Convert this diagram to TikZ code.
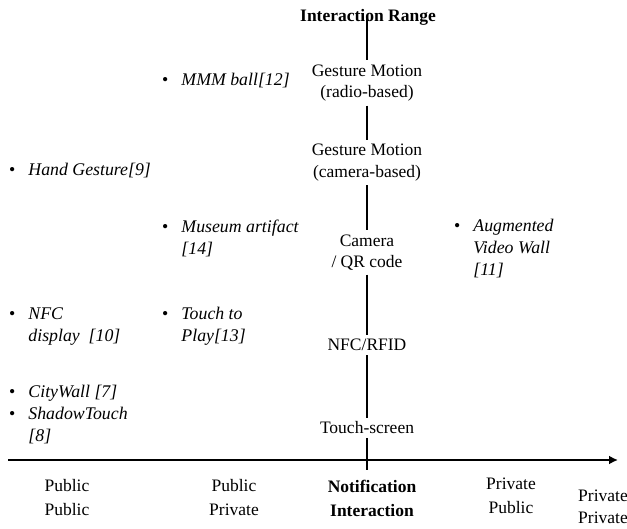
\documentclass[tikz,border=0pt]{standalone}
\usepackage{fontspec}
\setmainfont{Liberation Serif}
\usepackage{array}
\usetikzlibrary{arrows.meta}

\newcommand{\rngfont}{\fontsize{17.5}{21.5}\selectfont}
\newcommand{\projfont}{\fontsize{17.8}{21.7}\selectfont}
\newcommand{\casefont}{\fontsize{17.5}{24}\selectfont}
\newcommand{\projitem}[1]{\begin{tabular}[t]{@{}l@{\hspace{13pt}}>{\itshape}l@{}}\textbullet & #1\end{tabular}}

\tikzset{
  tech/.style={align=center, inner sep=4pt, font=\rngfont},
  proj/.style={anchor=base west, inner sep=0pt, font=\projfont},
  usecase/.style={align=center, inner sep=0pt, font=\casefont},
  rangeline/.style={line width=2.6pt},
  axisline/.style={line width=2pt},
}

\begin{document}
\begin{tikzpicture}[x=1pt,y=-1pt]
  \useasboundingbox (0,0) rectangle (627,529);
  % interaction techniques along the range
  \node[tech,font=\rngfont\bfseries] (title) at (368,17) {Interaction Range};
  \node[tech] (radio) at (367,83) {Gesture Motion\\(radio-based)};
  \node[tech] (camb) at (367,162.5) {Gesture Motion\\(camera-based)};
  \node[tech] (qr) at (367,252.5) {Camera\\/ QR code};
  \node[tech] (nfc) at (367,345) {NFC/RFID};
  \node[tech] (touch) at (367,428) {Touch-screen};
  \coordinate (vtop) at (367,18);
  \coordinate (vbot) at (367,470);
  \draw[rangeline] (vtop) -- (radio);
  \draw[rangeline] (radio) -- (camb);
  \draw[rangeline] (camb) -- (qr);
  \draw[rangeline] (qr) -- (nfc);
  \draw[rangeline] (nfc) -- (touch);
  \draw[rangeline] (touch) -- (vbot);

  % horizontal axis
  \coordinate (ax0) at (8,460);
  \coordinate (ax1) at (618,460);
  \draw[axisline,-{Latex[length=9pt,width=9pt]}] (ax0) -- (ax1);

  % projects
  \node[proj] (mmm) at (162,86) {\projitem{MMM ball[12]}};
  \node[proj] (hand) at (9,176) {\projitem{Hand Gesture[9]}};
  \node[proj] (museum) at (162,233) {\projitem{Museum artifact\\ & [14]}};
  \node[proj] (avw) at (454,232) {\projitem{Augmented\\ & Video Wall\\ & [11]}};
  \node[proj] (nfcd) at (9,320) {\projitem{NFC\\ & display~ [10]}};
  \node[proj] (play) at (162,320) {\projitem{Touch to\\ & Play[13]}};
  \node[proj] (city) at (9,398) {\projitem{CityWall [7]\\ \textbullet & ShadowTouch\\ & [8]}};

  % notification / interaction space
  \node[usecase] (pubpub) at (67,498) {Public\\Public};
  \node[usecase] (pubpriv) at (234,498) {Public\\Private};
  \node[usecase,font=\casefont\bfseries] (notint) at (372,498) {Notification\\Interaction};
  \node[usecase] (privpub) at (511,496) {Private\\Public};
  \node[usecase,font=\fontsize{17.5}{22}\selectfont] (privpriv) at (603,507) {Private\\Private};
\end{tikzpicture}
\end{document}
